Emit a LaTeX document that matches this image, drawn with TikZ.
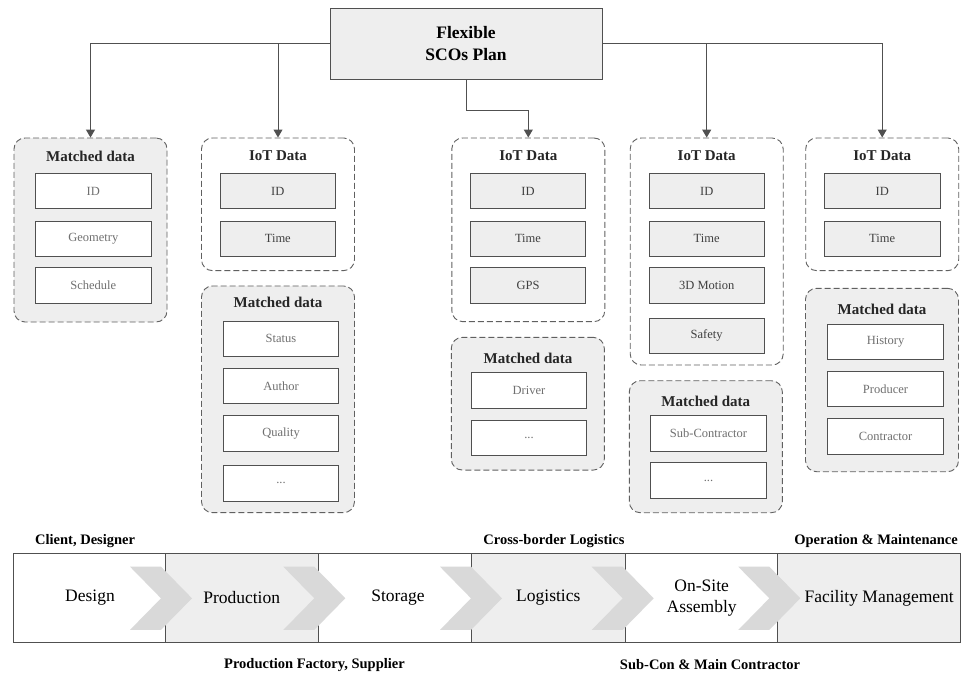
\documentclass[tikz,border=0pt]{standalone}
\usepackage{fontspec}
\setmainfont{Liberation Serif}
\usetikzlibrary{arrows.meta,calc}
\definecolor{lgray}{HTML}{EEEEEE}
\definecolor{chev}{HTML}{D9D9D9}
\definecolor{edge}{HTML}{505050}
\definecolor{dash}{HTML}{606060}
\definecolor{itxt}{HTML}{707070}
\definecolor{iottxt}{HTML}{404040}
\tikzset{
  plan/.style={draw=edge, fill=lgray, line width=0.9pt, minimum width=272pt, minimum height=71pt, inner sep=0pt, align=center, font=\fontsize{17.5}{22}\selectfont\bfseries},
  grp/.style={draw=dash, dash pattern=on 6pt off 3pt, rounded corners=11pt, line width=0.9pt, minimum width=153pt, inner sep=0pt},
  iotgrp/.style={grp, fill=white},
  matgrp/.style={grp, fill=lgray},
  gtitle/.style={font=\fontsize{15}{18}\selectfont\bfseries, text=black!85, inner sep=0pt},
  item/.style={draw=edge, line width=0.9pt, minimum width=115.5pt, minimum height=35.5pt, inner sep=0pt, font=\fontsize{12.5}{15}\selectfont},
  iotitem/.style={item, fill=lgray, text=iottxt},
  matitem/.style={item, fill=white, text=itxt},
  conn/.style={draw=edge, line width=1pt, -{Triangle[width=9pt,length=8pt]}},
  seg/.style={draw=edge, line width=0.9pt, minimum height=89pt, inner sep=0pt},
  stage/.style={font=\fontsize{17.5}{21}\selectfont, align=center, inner sep=0pt},
  actor/.style={font=\fontsize{14.5}{17}\selectfont\bfseries, inner sep=0pt},
}
\begin{document}
\begin{tikzpicture}[x=1pt,y=-1pt]
\useasboundingbox (0,0) rectangle (961,673);

% top plan box
\node[plan] (plan) at (466,43.5) {Flexible\\SCOs Plan};

% group 1
\node[matgrp, minimum height=184pt] (g1) at (90.5,230) {};
\node[gtitle] (g1t) at (90.5,156) {Matched data};
\node[matitem] (g1a) at (93.3,191) {ID};
\node[matitem] (g1b) at (93.3,238.7) {Geometry};
\node[matitem] (g1c) at (93.3,285.5) {Schedule};

% group 2
\node[iotgrp, minimum height=132.7pt] (g2) at (278,204.3) {};
\node[gtitle] (g2t) at (278,156) {IoT Data};
\node[iotitem] (g2a) at (277.8,191) {ID};
\node[iotitem] (g2b) at (277.8,238.7) {Time};
\node[matgrp, minimum height=226.7pt] (m2) at (278,399.3) {};
\node[gtitle] (m2t) at (278,302.7) {Matched data};
\node[matitem] (m2a) at (281,338.7) {Status};
\node[matitem] (m2b) at (281,386) {Author};
\node[matitem] (m2c) at (281,433.3) {Quality};
\node[matitem] (m2d) at (281,483.3) {...};

% group 3
\node[iotgrp, minimum height=183.7pt] (g3) at (528.3,229.8) {};
\node[gtitle] (g3t) at (528.3,156) {IoT Data};
\node[iotitem] (g3a) at (528,191) {ID};
\node[iotitem] (g3b) at (528,238.7) {Time};
\node[iotitem] (g3c) at (528,285.5) {GPS};
\node[matgrp, minimum height=132.7pt] (m3) at (527.8,403.7) {};
\node[gtitle] (m3t) at (528,358) {Matched data};
\node[matitem] (m3a) at (529,390.3) {Driver};
\node[matitem] (m3b) at (529,437.8) {...};

% group 4
\node[iotgrp, minimum height=227pt] (g4) at (706.7,251.5) {};
\node[gtitle] (g4t) at (706.7,156) {IoT Data};
\node[iotitem] (g4a) at (706.7,191) {ID};
\node[iotitem] (g4b) at (706.7,238.7) {Time};
\node[iotitem] (g4c) at (706.7,285.5) {3D Motion};
\node[iotitem] (g4d) at (706.7,335.8) {Safety};
\node[matgrp, minimum height=132pt] (m4) at (705.8,446.7) {};
\node[gtitle] (m4t) at (705.8,401) {Matched data};
\node[matitem] (m4a) at (708.5,433.3) {Sub-Contractor};
\node[matitem] (m4b) at (708.5,480.5) {...};

% group 5
\node[iotgrp, minimum height=132.7pt] (g5) at (882.2,204.3) {};
\node[gtitle] (g5t) at (882.2,156) {IoT Data};
\node[iotitem] (g5a) at (882.2,191) {ID};
\node[iotitem] (g5b) at (882.2,238.7) {Time};
\node[matgrp, minimum height=183.4pt] (m5) at (882,380) {};
\node[gtitle] (m5t) at (882,309) {Matched data};
\node[matitem] (m5a) at (885.5,341.7) {History};
\node[matitem] (m5b) at (885.5,388.8) {Producer};
\node[matitem] (m5c) at (885.5,436.2) {Contractor};

% connectors
\draw[conn] (plan.west) -| (g1.north);
\draw[conn] (plan.west) -| (g2.north);
\draw[conn] (plan.east) -| (g4.north);
\draw[conn] (plan.east) -| (g5.north);
\draw[conn] (plan.south) |- ($(g3.north)+(0,-27)$) -- (g3.north);

% bottom value chain
\node[seg, fill=white, minimum width=152.4pt] (s1) at (89.5,597.8) {};
\node[seg, fill=lgray, minimum width=152.6pt] (s2) at (242,597.8) {};
\node[seg, fill=white, minimum width=153.4pt] (s3) at (395,597.8) {};
\node[seg, fill=lgray, minimum width=153.3pt] (s4) at (548.35,597.8) {};
\node[seg, fill=white, minimum width=152.7pt] (s5) at (701.35,597.8) {};
\node[seg, fill=lgray, minimum width=182.3pt] (s6) at (868.85,597.8) {};

\foreach \cx in {130,283.3,440,591.7,738.3}{
  \fill[chev] (\cx,566.7) -- ++(31,0) -- ++(31,31.6) -- ++(-31,31.6) -- ++(-31,0) -- ++(31,-31.6) -- cycle;
}

\node[stage] (l1) at (90,598) {Design};
\node[stage] (l2) at (241.7,598) {Production};
\node[stage] (l3) at (398,598) {Storage};
\node[stage] (l4) at (548.3,598) {Logistics};
\node[stage] (l5) at (701.7,598) {On-Site\\Assembly};
\node[stage] (l6) at (879.2,598) {Facility Management};

\node[actor, anchor=west] (a1) at (35,540.7) {Client, Designer};
\node[actor] (a2) at (314.5,665) {Production Factory, Supplier};
\node[actor] (a3) at (554,540.7) {Cross-border Logistics};
\node[actor] (a4) at (710,665) {Sub-Con \& Main Contractor};
\node[actor, anchor=east] (a5) at (958,540.7) {Operation \& Maintenance};
\end{tikzpicture}
\end{document}
